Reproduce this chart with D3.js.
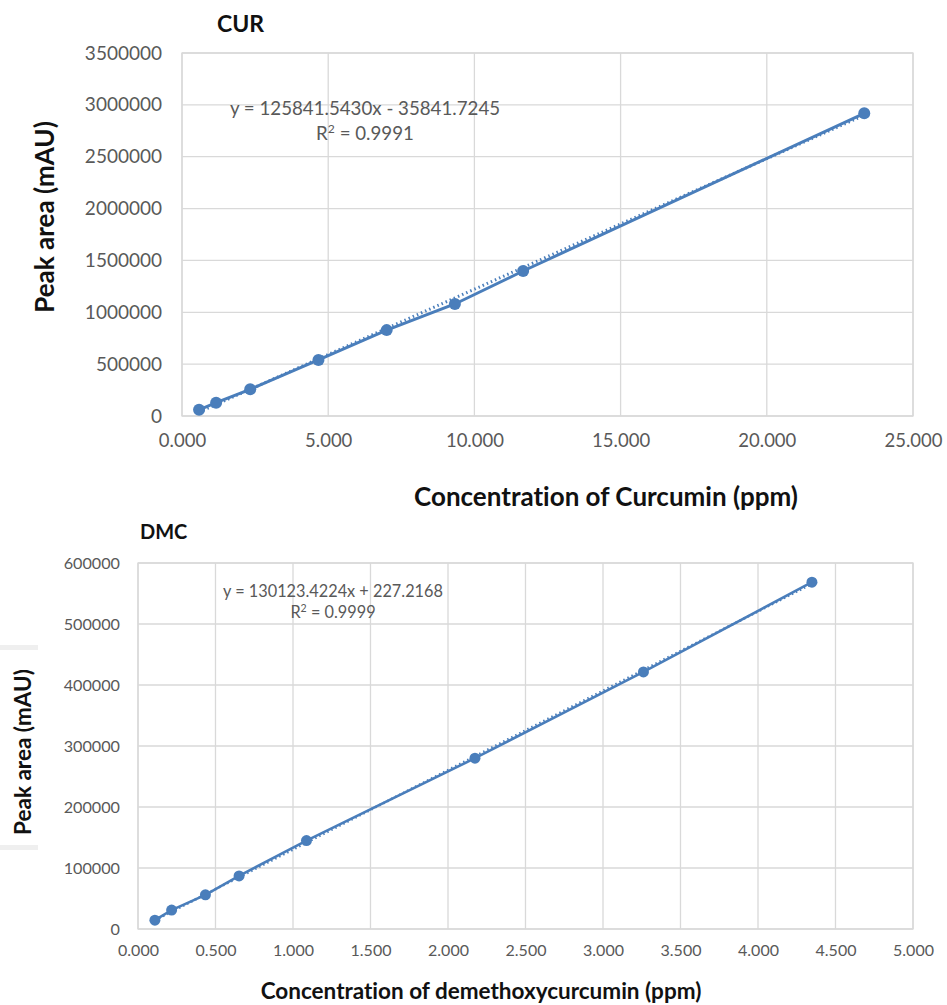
<!DOCTYPE html>
<html><head><meta charset="utf-8">
<script src="https://cdn.jsdelivr.net/npm/d3@7"></script>
<style>body{margin:0;background:#fff}svg{display:block}text{font-variant-ligatures:none;font-feature-settings:"liga" 0}</style>
</head><body>
<svg id="c" width="947" height="1005"></svg>
<script>
// CUR data
const curX = [0.583, 1.167, 2.333, 4.667, 7.0, 9.333, 11.667, 23.333];
const curY = [60000, 128000, 257000, 540000, 828000, 1080000, 1398000, 2918000];
const curSlope = 125841.5430, curIntercept = -35841.7245;
const curEq = "y = 125841.5430x - 35841.7245";
const curR2 = "0.9991";
const curXTicks = [0, 5, 10, 15, 20, 25];
const curYTicks = [0, 500000, 1000000, 1500000, 2000000, 2500000, 3000000, 3500000];
// DMC data
const dmcX = [0.109, 0.217, 0.435, 0.652, 1.087, 2.174, 3.261, 4.348];
const dmcY = [14500, 31000, 56000, 87000, 145000, 280000, 421500, 568500];
const dmcSlope = 130123.4224, dmcIntercept = 227.2168;
const dmcEq = "y = 130123.4224x + 227.2168";
const dmcR2 = "0.9999";
const dmcXTicks = [0, 0.5, 1, 1.5, 2, 2.5, 3, 3.5, 4, 4.5, 5];
const dmcYTicks = [0, 100000, 200000, 300000, 400000, 500000, 600000];

const svg = d3.select("#c");
const FONT = "Lato, 'Open Sans', sans-serif";
const BLUE = "#4a7ebb";

function chart(cfg) {
  const x = d3.scaleLinear().domain(cfg.xDom).range([cfg.l, cfg.r]);
  const y = d3.scaleLinear().domain(cfg.yDom).range([cfg.b, cfg.t]);
  const g = svg.append("g");
  // gridlines
  g.append("g").selectAll("line").data(cfg.yTicks).join("line")
    .attr("x1", cfg.l).attr("x2", cfg.r).attr("y1", d => y(d)).attr("y2", d => y(d))
    .attr("stroke", "#d9d9d9").attr("stroke-width", 1.3);
  g.append("g").selectAll("line").data(cfg.xTicks).join("line")
    .attr("y1", cfg.t).attr("y2", cfg.b).attr("x1", d => x(d)).attr("x2", d => x(d))
    .attr("stroke", "#d9d9d9").attr("stroke-width", 1.3);
  // axes (via d3 axis, without domain/ticks)
  const ya = g.append("g").attr("transform", `translate(${cfg.l},0)`)
    .call(d3.axisLeft(y).tickValues(cfg.yTicks).tickFormat(d3.format("d")).tickSize(0).tickPadding(cfg.yPad));
  ya.select(".domain").remove();
  ya.selectAll("text").attr("font-family", FONT).attr("font-size", cfg.yTickSize).attr("fill", "#595959");
  const xa = g.append("g").attr("transform", `translate(0,${cfg.b})`)
    .call(d3.axisBottom(x).tickValues(cfg.xTicks).tickFormat(d3.format(".3f")).tickSize(0).tickPadding(cfg.xPad));
  xa.select(".domain").remove();
  xa.selectAll("text").attr("font-family", FONT).attr("font-size", cfg.xTickSize).attr("fill", "#595959");
  // plot border
  g.append("rect").attr("x", cfg.l).attr("y", cfg.t).attr("width", cfg.r - cfg.l).attr("height", cfg.b - cfg.t)
    .attr("fill", "none").attr("stroke", "#d9d9d9").attr("stroke-width", 1.3);
  const pts = cfg.xs.map((v, i) => [v, cfg.ys[i]]);
  // trendline (dotted)
  const xmin = d3.min(cfg.xs), xmax = d3.max(cfg.xs);
  g.append("line")
    .attr("x1", x(xmin)).attr("y1", y(cfg.slope * xmin + cfg.icpt))
    .attr("x2", x(xmax)).attr("y2", y(cfg.slope * xmax + cfg.icpt))
    .attr("stroke", BLUE).attr("stroke-width", cfg.lw).attr("stroke-dasharray", "1.5,3");
  // series line
  g.append("path").datum(pts)
    .attr("d", d3.line().x(d => x(d[0])).y(d => y(d[1])))
    .attr("fill", "none").attr("stroke", BLUE).attr("stroke-width", cfg.lw);
  g.append("g").selectAll("circle").data(pts).join("circle")
    .attr("cx", d => x(d[0])).attr("cy", d => y(d[1])).attr("r", cfg.mr).attr("fill", BLUE);
  // title
  g.append("text").attr("x", cfg.titleX).attr("y", cfg.titleY).text(cfg.title)
    .attr("font-family", FONT).attr("font-weight", "bold").attr("font-size", cfg.titleSize).attr("fill", "#111");
  // axis titles
  g.append("text").attr("transform", `translate(${cfg.yTitleX},${cfg.yTitleY}) rotate(-90)`)
    .attr("text-anchor", "middle").text("Peak area (mAU)")
    .attr("font-family", FONT).attr("font-weight", "bold").attr("font-size", cfg.yTitleSize).attr("fill", "#111");
  g.append("text").attr("x", cfg.xTitleX).attr("y", cfg.xTitleY).attr("text-anchor", "middle").text(cfg.xTitle)
    .attr("font-family", FONT).attr("font-weight", "bold").attr("font-size", cfg.xTitleSize).attr("fill", "#111");
  // equation
  g.append("text").attr("x", cfg.eqX).attr("y", cfg.eqY).attr("text-anchor", "middle").text(cfg.eq)
    .attr("font-family", FONT).attr("font-size", cfg.eqSize).attr("fill", "#595959");
  const r2 = g.append("text").attr("x", cfg.eqX + cfg.r2dx).attr("y", cfg.eqY + cfg.r2dy).attr("text-anchor", "middle")
    .attr("font-family", FONT).attr("font-size", cfg.eqSize).attr("fill", "#595959");
  r2.append("tspan").text("R");
  r2.append("tspan").text("2").attr("font-size", cfg.eqSize * 0.65).attr("dy", -cfg.eqSize * 0.38);
  r2.append("tspan").text(" = " + cfg.r2).attr("dy", cfg.eqSize * 0.38);
}

chart({
  xDom: [0, 25], yDom: [0, 3500000], l: 182, r: 913, t: 53, b: 416,
  xTicks: curXTicks, yTicks: curYTicks, xs: curX, ys: curY,
  slope: curSlope, icpt: curIntercept, lw: 3, mr: 6,
  yTickSize: 19, xTickSize: 18.5, yPad: 20, xPad: 18,
  title: "CUR", titleX: 217, titleY: 32, titleSize: 23,
  yTitleX: 54, yTitleY: 217, yTitleSize: 26,
  xTitle: "Concentration of Curcumin (ppm)", xTitleX: 606, xTitleY: 506, xTitleSize: 26,
  eq: curEq, r2: curR2, eqX: 365, eqY: 115, eqSize: 18.7, r2dx: 0, r2dy: 25
});

chart({
  xDom: [0, 5], yDom: [0, 600000], l: 138, r: 913, t: 563, b: 929,
  xTicks: dmcXTicks, yTicks: dmcYTicks, xs: dmcX, ys: dmcY,
  slope: dmcSlope, icpt: dmcIntercept, lw: 2.6, mr: 5.5,
  yTickSize: 16.2, xTickSize: 16, yPad: 18, xPad: 16,
  title: "DMC", titleX: 140, titleY: 539, titleSize: 20,
  yTitleX: 31, yTitleY: 752, yTitleSize: 22.5,
  xTitle: "Concentration of demethoxycurcumin (ppm)", xTitleX: 481, xTitleY: 999, xTitleSize: 22.5,
  eq: dmcEq, r2: dmcR2, eqX: 333, eqY: 597, eqSize: 16.3, r2dx: 0, r2dy: 21
});

// faint artifacts at left of lower chart
svg.append("rect").attr("x", 0).attr("y", 645).attr("width", 38).attr("height", 5).attr("fill", "#efefef");
svg.append("rect").attr("x", 0).attr("y", 845).attr("width", 38).attr("height", 5).attr("fill", "#efefef");
</script>
</body></html>
